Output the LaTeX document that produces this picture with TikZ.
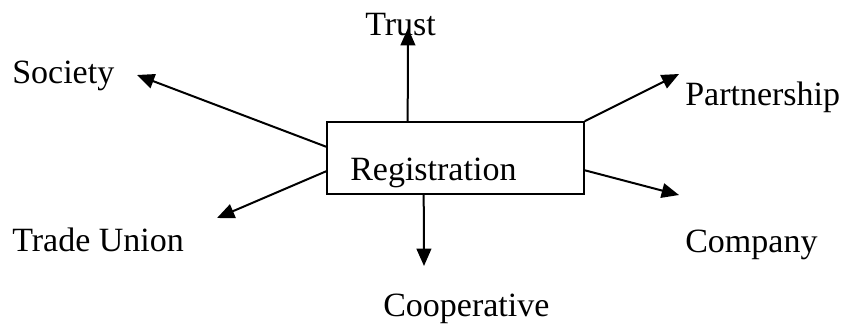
\documentclass[tikz,border=0pt]{standalone}
\usepackage{fontspec}
\setmainfont{Liberation Serif}
\usetikzlibrary{arrows.meta,calc}
\begin{document}
\begin{tikzpicture}[x=0.75pt,y=-0.75pt,
  lbl/.style={anchor=base west,inner sep=0pt,font=\fontsize{25.5}{30}\selectfont},
  box/.style={draw,line width=1.2pt,minimum width=257*0.75pt,minimum height=72*0.75pt,inner sep=0pt},
  arr/.style={line width=1.5pt,-{Triangle[length=13pt,width=11pt]}}]
\useasboundingbox (0,0) rectangle (848,329);
\node[box] (reg) at (455.5,158) {};
\node[lbl] (regt) at (350,180) {Registration};
\node[lbl] (trust) at (365,35) {Trust};
\node[lbl] (soc) at (12,83) {Society};
\node[lbl] (tu) at (12,251) {Trade Union};
\node[lbl] (part) at (685,105) {Partnership};
\node[lbl] (comp) at (685,252) {Company};
\node[lbl] (coop) at (383,316) {Cooperative};
\coordinate (tTrust) at (408,28);
\coordinate (tSoc) at (137,75);
\coordinate (tTU) at (217,218);
\coordinate (tPart) at (679,74);
\coordinate (tComp) at (679,195);
\coordinate (tCoop) at (424,266);
\draw[arr] ($(reg.north west)!0.315!(reg.north east)$) -- (tTrust);
\draw[arr] ($(reg.north west)!0.347!(reg.south west)$) -- (tSoc);
\draw[arr] ($(reg.north west)!0.68!(reg.south west)$) -- (tTU);
\draw[arr] (reg.north east) -- (tPart);
\draw[arr] ($(reg.north east)!0.667!(reg.south east)$) -- (tComp);
\draw[arr] ($(reg.south west)!0.377!(reg.south east)$) -- (tCoop);
\end{tikzpicture}
\end{document}
